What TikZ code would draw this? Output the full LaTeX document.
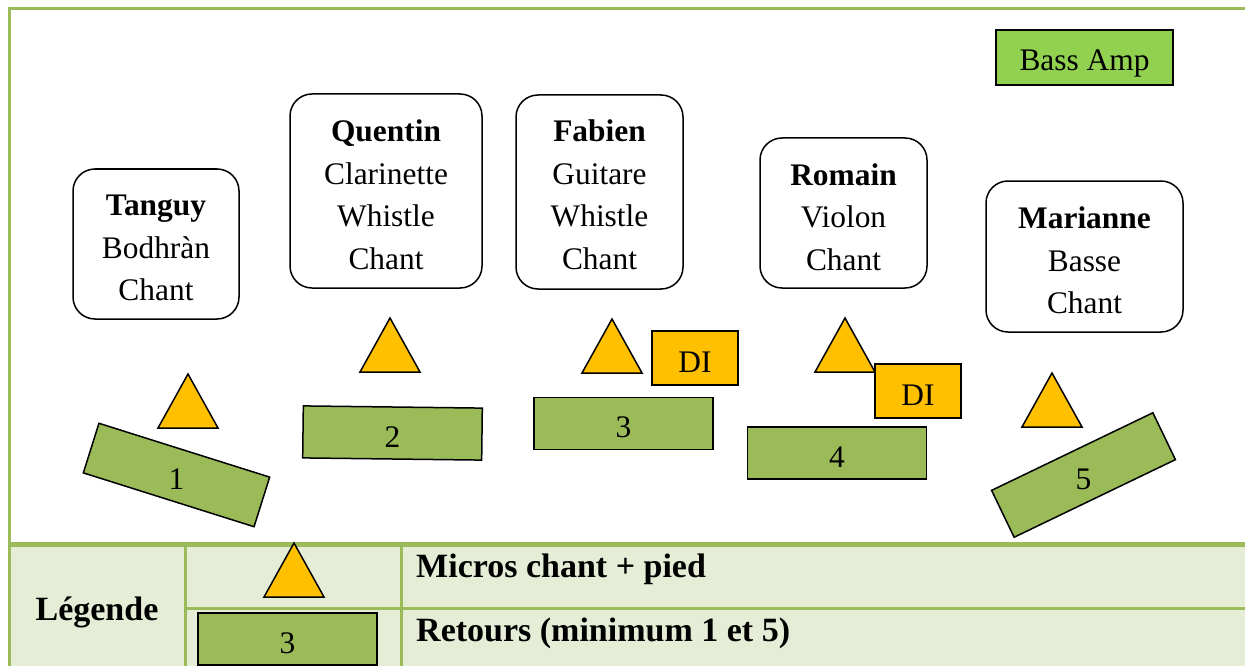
\documentclass[tikz,border=0pt]{standalone}
\usepackage{fontspec}
\setmainfont{Liberation Serif}
\definecolor{framegreen}{HTML}{9BBB59}
\definecolor{monfill}{HTML}{9BBB59}
\definecolor{micyellow}{HTML}{FFC000}
\definecolor{ampgreen}{HTML}{92D050}
\definecolor{legfill}{HTML}{E5EDD7}
\tikzset{
  person/.style={draw=black, line width=1.5pt, rounded corners=22pt, inner sep=0pt},
  persontext/.style={align=center, font=\fontsize{31.4}{42.5}\selectfont, inner sep=0pt},
  monitor/.style={draw=black, line width=1.5pt, fill=monfill, minimum width=179pt,
    minimum height=52pt, inner sep=0pt},
  montext/.style={font=\fontsize{31.4}{36}\selectfont, inner sep=0pt},
  dibox/.style={draw=black, line width=1.5pt, fill=micyellow, minimum width=86pt,
    minimum height=54pt, inner sep=0pt, font=\fontsize{31.4}{36}\selectfont,
    text height=29pt, text depth=0pt},
  ampbox/.style={draw=black, line width=1.5pt, fill=ampgreen, minimum width=177pt,
    minimum height=55pt, inner sep=0pt, font=\fontsize{31.4}{36}\selectfont,
    text height=27pt, text depth=0pt},
  legtext/.style={font=\bfseries\fontsize{34}{40}\selectfont, inner sep=0pt},
  micshape/.style={draw=black, line width=1.5pt, fill=micyellow, line join=miter},
  mic/.pic={\path[micshape] (-30,54) -- (0,0) -- (30,54) -- cycle;}
}
\begin{document}
\begin{tikzpicture}[x=1pt,y=-1pt]
\useasboundingbox (0,0) rectangle (1245,666);
\begin{scope}
\clip (0,0) rectangle (1245,666);
% legend background and frame
\fill[legfill] (9,544) rectangle (1250,670);
\draw[framegreen, line width=3pt] (1250,9) -- (9,9) -- (9,670);
\draw[framegreen, line width=5pt] (7.5,544) -- (1250,544);
\draw[framegreen, line width=3pt] (185,544) -- (185,670);
\draw[framegreen, line width=3pt] (401,544) -- (401,670);
\draw[framegreen, line width=3pt] (185,608.5) -- (1250,608.5);

% musicians
\node[person, minimum width=166pt, minimum height=150pt] (tanguy) at (156,244) {};
\node[persontext] (tanguyT) at ([yshift=-4pt]tanguy.center)
  {\textbf{Tanguy}\\Bodhràn\\Chant};
\node[person, minimum width=192pt, minimum height=194pt] (quentin) at (386,191) {};
\node[persontext] (quentinT) at ([yshift=-4pt]quentin.center)
  {\textbf{Quentin}\\Clarinette\\Whistle\\Chant};
\node[person, minimum width=167pt, minimum height=194pt] (fabien) at (599.5,192) {};
\node[persontext] (fabienT) at ([yshift=-3pt]fabien.center)
  {\textbf{Fabien}\\Guitare\\Whistle\\Chant};
\node[person, minimum width=167pt, minimum height=150pt] (romain) at (843.5,213) {};
\node[persontext] (romainT) at ([yshift=-4pt]romain.center)
  {\textbf{Romain}\\Violon\\Chant};
\node[person, minimum width=197pt, minimum height=151pt] (marianne) at (1084.5,256.5) {};
\node[persontext] (marianneT) at ([yshift=-4pt]marianne.center)
  {\textbf{Marianne}\\Basse\\Chant};

% bass amp
\node[ampbox] (amp) at (1084.5,57.5) {Bass Amp};

% microphones
\pic at (188,374) {mic};
\pic at (390,318) {mic};
\pic at (612,319) {mic};
\pic at (845,318) {mic};
\pic at (1052,373) {mic};

% DI boxes
\node[dibox] (di1) at (695,358) {DI};
\node[dibox] (di2) at (918,391) {DI};

% monitors
\node[monitor, rotate=-17.5] (m1) at (176.5,475) {};
\node[montext] at ([yshift=-4pt]m1.center) {1};
\node[monitor, rotate=-0.7] (m2) at (392.5,433) {};
\node[montext] at ([yshift=-4pt]m2.center) {2};
\node[monitor] (m3) at (623.5,423.5) {};
\node[montext] at ([yshift=-4pt]m3.center) {3};
\node[monitor] (m4) at (837,453) {};
\node[montext] at ([yshift=-4pt]m4.center) {4};
\node[monitor, rotate=25.7] (m5) at (1083.5,475) {};
\node[montext] at ([yshift=-4pt]m5.center) {5};

% legend
\node[legtext] (leg) at (97,612) {Légende};
\pic at (294,543) {mic};
\node[monitor] (legmon) at (287.5,639) {};
\node[montext] at ([yshift=-4pt]legmon.center) {3};
\node[legtext, anchor=west] (legmic) at (416,569) {Micros chant + pied};
\node[legtext, anchor=west] (legret) at (416,633) {Retours (minimum 1 et 5)};
\end{scope}
\end{tikzpicture}
\end{document}
